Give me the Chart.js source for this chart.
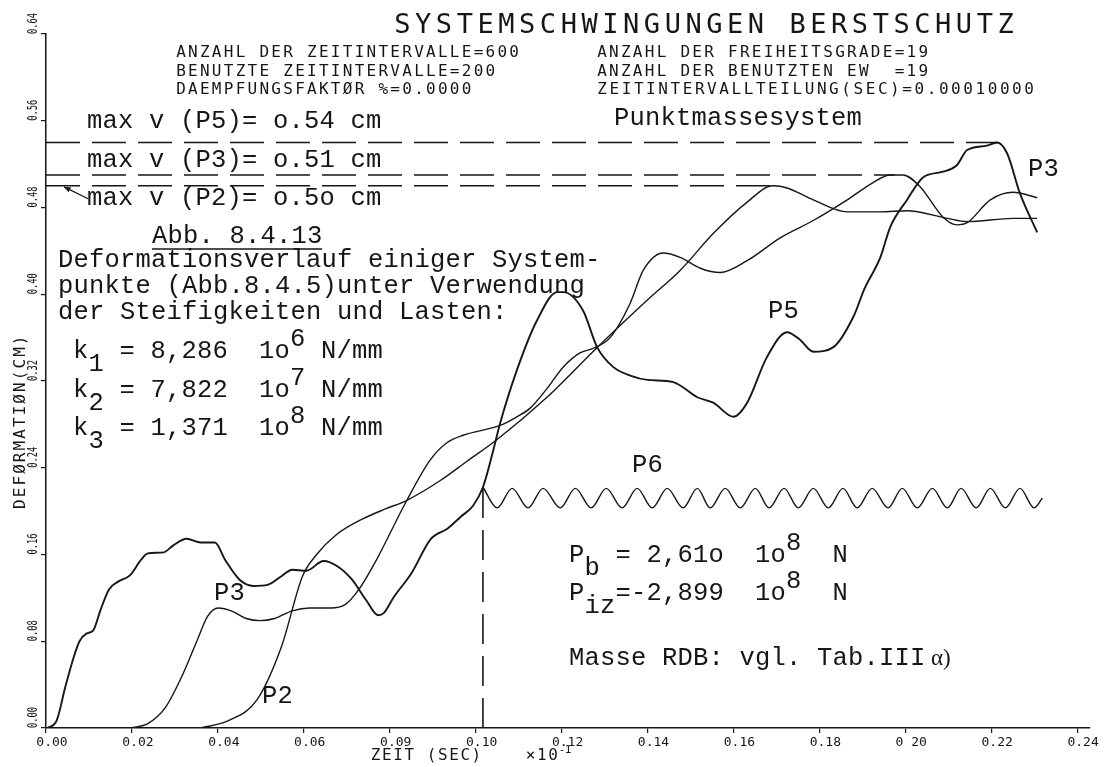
<!DOCTYPE html>
<html lang="de">
<head>
<meta charset="utf-8">
<title>Systemschwingungen Berstschutz</title>
<script src="https://cdn.jsdelivr.net/npm/chart.js@4.4.1/dist/chart.umd.min.js"></script>
<style>
  html, body { margin: 0; padding: 0; background: #fff; }
  #wrap { position: relative; width: 1114px; height: 767px; }
</style>
</head>
<body>
<div id="wrap"><canvas id="plot"></canvas></div>
<script>
// Axis ticks
const xTickValues = [0, 0.02, 0.04, 0.06, 0.08, 0.10, 0.12, 0.14, 0.16, 0.18, 0.20, 0.22, 0.24];
const xTickLabels = ['0.00', '0.02', '0.04', '0.06', '0.09', '0.10', '0.12', '0.14', '0.16', '0.18', '0 20', '0.22', '0.24'];
const yTickValues = [0, 0.08, 0.16, 0.24, 0.32, 0.40, 0.48, 0.56, 0.64];
const yTickLabels = ['0.00', '0.08', '0.16', '0.24', '0.32', '0.40', '0.48', '0.56', '0.64'];

// P5 deformation over time (time x10^-1 sec, deformation cm)
const p5Time = [0.0004, 0.0025, 0.0045, 0.0065, 0.0078, 0.0094, 0.011, 0.0127, 0.0147, 0.0168, 0.0196, 0.0221,
  0.0237, 0.0274, 0.0295, 0.0327, 0.036, 0.0393, 0.0417, 0.045, 0.0483, 0.0516, 0.0548, 0.0573, 0.0606, 0.0646,
  0.0679, 0.0712, 0.0745, 0.0773, 0.0786, 0.081, 0.0851, 0.0895, 0.0935, 0.0966, 0.0994, 0.1017, 0.1041, 0.1057,
  0.1096, 0.1143, 0.119, 0.1204, 0.125, 0.1283, 0.132, 0.136, 0.140, 0.146, 0.1516, 0.1553, 0.160, 0.1632, 0.1678,
  0.1725, 0.1755, 0.1786, 0.1832, 0.1879, 0.1905, 0.1942, 0.1965, 0.2004, 0.2042, 0.2088, 0.212, 0.2144, 0.219,
  0.2214, 0.2237, 0.2267, 0.2307];
const p5Defl = [0, 0.007, 0.038, 0.066, 0.080, 0.087, 0.090, 0.109, 0.128, 0.135, 0.141, 0.155,
  0.161, 0.162, 0.168, 0.1745, 0.171, 0.171, 0.155, 0.137, 0.131, 0.132, 0.140, 0.146, 0.145, 0.154,
  0.149, 0.137, 0.118, 0.104, 0.106, 0.121, 0.143, 0.174, 0.184, 0.195, 0.205, 0.222, 0.256, 0.281,
  0.330, 0.376, 0.402, 0.402, 0.385, 0.351, 0.333, 0.325, 0.321, 0.319, 0.305, 0.300, 0.287, 0.300, 0.342,
  0.365, 0.358, 0.347, 0.351, 0.379, 0.405, 0.434, 0.462, 0.487, 0.508, 0.513, 0.519, 0.533, 0.537,
  0.540, 0.530, 0.493, 0.457];

// P3
const p3Time = [0.0198, 0.0237, 0.0278, 0.0319, 0.0352, 0.0376, 0.0401, 0.0434, 0.0466, 0.0499, 0.0532, 0.0573,
  0.0614, 0.0663, 0.0696, 0.0728, 0.0765, 0.084, 0.0894, 0.0933, 0.0971, 0.1057, 0.1096, 0.1127, 0.1166, 0.1204,
  0.1243, 0.1273, 0.1313, 0.136, 0.139, 0.1437, 0.1476, 0.1523, 0.1569, 0.1632, 0.1709, 0.1786, 0.1865, 0.1925,
  0.1965, 0.1995, 0.2035, 0.2088, 0.212, 0.2144, 0.2198, 0.2251, 0.2307];
const p3Defl = [0, 0.004, 0.019, 0.050, 0.081, 0.103, 0.1106, 0.1075, 0.101, 0.099, 0.101, 0.108,
  0.1106, 0.1106, 0.1137, 0.1276, 0.152, 0.210, 0.247, 0.263, 0.270, 0.279, 0.287, 0.295, 0.313, 0.333,
  0.346, 0.350, 0.360, 0.392, 0.422, 0.438, 0.434, 0.424, 0.420, 0.431, 0.452, 0.468, 0.487, 0.503,
  0.510, 0.510, 0.499, 0.471, 0.464, 0.466, 0.487, 0.494, 0.489];

// P2
const p2Time = [0.036, 0.0426, 0.0491, 0.0548, 0.0597, 0.063, 0.0675, 0.0738, 0.079, 0.084, 0.0917, 0.098, 0.105,
  0.1166, 0.1283, 0.1406, 0.1476, 0.1553, 0.1632, 0.1692, 0.1725, 0.1786, 0.1865, 0.1942, 0.2004, 0.2098, 0.2144,
  0.2251, 0.2307];
const p2Defl = [0, 0.007, 0.026, 0.075, 0.140, 0.160, 0.178, 0.193, 0.202, 0.210, 0.228, 0.246, 0.266,
  0.305, 0.351, 0.397, 0.422, 0.456, 0.485, 0.500, 0.498, 0.487, 0.476, 0.476, 0.477, 0.470, 0.467,
  0.470, 0.470];

// P6 oscillation after t = 0.10
const p6Time = [0.1017, 0.1050, 0.1085, 0.1122, 0.1157, 0.1197, 0.1232, 0.1269, 0.1304, 0.1341, 0.1376, 0.1411,
  0.1446, 0.1483, 0.1516, 0.1546, 0.1581, 0.1616, 0.1651, 0.1683, 0.1718, 0.1751, 0.1786, 0.1821, 0.1855, 0.1888,
  0.1923, 0.1960, 0.1993, 0.2028, 0.2063, 0.2098, 0.2130, 0.2165, 0.2198, 0.2233, 0.2267, 0.2300, 0.2319];
const p6Defl = [0.222, 0.203, 0.221, 0.203, 0.221, 0.203, 0.221, 0.203, 0.221, 0.203, 0.221, 0.203,
  0.221, 0.203, 0.221, 0.203, 0.221, 0.203, 0.221, 0.203, 0.221, 0.203, 0.221, 0.203, 0.221, 0.203,
  0.221, 0.203, 0.221, 0.203, 0.221, 0.203, 0.221, 0.203, 0.221, 0.203, 0.221, 0.203, 0.212];

// max v lines (P5, P3, P2) and where they end
const maxDefl = [0.54, 0.51, 0.50];
const maxTime = [0.2214, 0.1975, 0.1692];

// load step marker at t = 0.10
const stepTime = 0.1017;

const INK = '#161616';
const PLOT_FONT = '"DejaVu Sans Mono", "Liberation Mono", monospace';
const TYPE_FONT = '"Liberation Mono", "Courier New", monospace';

function toPoints(ts, vs) {
  return ts.map((t, i) => ({ x: t, y: vs[i] }));
}

function curve(ts, vs, width) {
  return {
    data: toPoints(ts, vs),
    borderColor: INK,
    borderWidth: width,
    pointRadius: 0,
    fill: false,
    cubicInterpolationMode: 'monotone'
  };
}

function dashed(points, dash) {
  return {
    data: points,
    borderColor: INK,
    borderWidth: 1.6,
    borderDash: dash,
    pointRadius: 0,
    fill: false,
    tension: 0
  };
}

const datasets = [
  curve(p5Time, p5Defl, 1.9),
  curve(p3Time, p3Defl, 1.4),
  curve(p2Time, p2Defl, 1.4),
  curve(p6Time, p6Defl, 1.4),
  dashed([{ x: stepTime, y: 0 }, { x: stepTime, y: p6Defl[0] }], [30, 12])
];
maxDefl.forEach((v, i) => {
  datasets.push(dashed([{ x: 0, y: v }, { x: maxTime[i], y: v }], [34, 12]));
});

// plotter style header lines: [text, x, baseline]
const headerLines = [
  ['ANZAHL DER ZEITINTERVALLE=600', 175, 57],
  ['BENUTZTE ZEITINTERVALLE=200', 175, 75.5],
  ['DAEMPFUNGSFAKTØR %=0.0000', 175, 94],
  ['ANZAHL DER FREIHEITSGRADE=19', 596, 57],
  ['ANZAHL DER BENUTZTEN EW  =19', 596, 75.5],
  ['ZEITINTERVALLTEILUNG(SEC)=0.00010000', 596, 94]
];

// typewriter lines; ^ raises and _ lowers the next character
const typedLines = [
  ['Punktmassesystem', 614, 125],
  ['max v (P5)= o.54 cm', 87, 128],
  ['max v (P3)= o.51 cm', 87, 167],
  ['max v (P2)= o.5o cm', 87, 205],
  ['Abb. 8.4.13', 152, 243],
  ['Deformationsverlauf einiger System-', 58, 267],
  ['punkte (Abb.8.4.5)unter Verwendung', 58, 293],
  ['der Steifigkeiten und Lasten:', 58, 319],
  ['k_1 = 8,286  1o^6 N/mm', 73, 358],
  ['k_2 = 7,822  1o^7 N/mm', 73, 397],
  ['k_3 = 1,371  1o^8 N/mm', 73, 435],
  ['P_b = 2,61o  1o^8  N', 569, 562],
  ['P_i_z=-2,899  1o^8  N', 569, 600],
  ['Masse RDB: vgl. Tab.III', 569, 665],
  ['P3', 1028, 176],
  ['P5', 768, 318],
  ['P6', 632, 472],
  ['P3', 214, 600],
  ['P2', 262, 703]
];

function drawChars(ctx, text, x0, y0, adv) {
  let col = 0;
  for (let i = 0; i < text.length; i++) {
    let dy = 0;
    if (text[i] === '^') { dy = -12; i++; }
    else if (text[i] === '_') { dy = 13; i++; }
    ctx.fillText(text[i], x0 + col * adv + adv / 2, y0 + dy);
    col++;
  }
}

const annotations = {
  id: 'annotations',
  afterDraw(chart) {
    const ctx = chart.ctx;
    const xs = chart.scales.x;
    const ys = chart.scales.y;
    ctx.save();
    ctx.fillStyle = INK;
    ctx.strokeStyle = INK;
    ctx.textAlign = 'center';
    ctx.textBaseline = 'alphabetic';

    // title and run parameters
    ctx.font = '27px ' + PLOT_FONT;
    drawChars(ctx, 'SYSTEMSCHWINGUNGEN BERSTSCHUTZ', 392, 33, 20.8);
    ctx.font = '16px ' + PLOT_FONT;
    headerLines.forEach(([t, x, y]) => drawChars(ctx, t, x, y, t.length > 30 ? 12.2 : 11.9));

    // typed notes
    ctx.font = '25.5px ' + TYPE_FONT;
    typedLines.forEach(([t, x, y]) => drawChars(ctx, t, x, y, 15.5));
    ctx.font = '23px "Liberation Serif", serif';
    ctx.textAlign = 'left';
    ctx.fillText('α)', 931, 665);

    // underline of figure number
    ctx.lineWidth = 1.5;
    ctx.beginPath();
    ctx.moveTo(152, 249);
    ctx.lineTo(322, 249);
    ctx.stroke();

    // arrow onto the P2 line
    const ax0 = xs.getPixelForValue(0.0098), ay0 = ys.getPixelForValue(0.488);
    const ax1 = xs.getPixelForValue(0.0042), ay1 = ys.getPixelForValue(maxDefl[2] - 0.001);
    ctx.lineWidth = 1.2;
    ctx.beginPath();
    ctx.moveTo(ax0, ay0);
    ctx.lineTo(ax1, ay1);
    ctx.stroke();
    const ang = Math.atan2(ay1 - ay0, ax1 - ax0);
    ctx.beginPath();
    ctx.moveTo(ax1, ay1);
    ctx.lineTo(ax1 - 7 * Math.cos(ang - 0.4), ay1 - 7 * Math.sin(ang - 0.4));
    ctx.lineTo(ax1 - 7 * Math.cos(ang + 0.4), ay1 - 7 * Math.sin(ang + 0.4));
    ctx.closePath();
    ctx.fill();

    // y tick labels, rotated, reading upward from each tick
    ctx.font = '14px ' + PLOT_FONT;
    ctx.textAlign = 'left';
    yTickValues.forEach((v, i) => {
      const py = ys.getPixelForValue(v);
      ctx.save();
      ctx.translate(37, py);
      ctx.rotate(-Math.PI / 2);
      ctx.fillText(yTickLabels[i], 0, 0, 21);
      ctx.restore();
    });

    // axis titles
    ctx.textAlign = 'center';
    ctx.font = '16px ' + PLOT_FONT;
    ctx.save();
    ctx.translate(25, 510);
    ctx.rotate(-Math.PI / 2);
    drawChars(ctx, 'DEFØRMATIØN(CM)', 0, 0, 11.7);
    ctx.restore();
    drawChars(ctx, 'ZEIT (SEC)', 370, 760, 11.2);
    drawChars(ctx, '×10', 525, 760, 11.2);
    ctx.font = '11px ' + PLOT_FONT;
    drawChars(ctx, '-1', 559, 753, 6);

    ctx.restore();
  }
};

new Chart(document.getElementById('plot'), {
  type: 'line',
  data: { datasets },
  plugins: [annotations],
  options: {
    responsive: true,
    maintainAspectRatio: false,
    animation: false,
    devicePixelRatio: 1,
    layout: { padding: { top: 34, right: 24, bottom: 0, left: 0 } },
    plugins: {
      legend: { display: false },
      tooltip: { enabled: false }
    },
    scales: {
      x: {
        type: 'linear',
        min: 0,
        max: 0.243,
        afterFit: (scale) => { scale.height = 39; },
        afterBuildTicks: (scale) => { scale.ticks = xTickValues.map(v => ({ value: v })); },
        border: { color: INK, width: 1.5 },
        grid: { drawOnChartArea: false, color: INK, tickLength: 5, lineWidth: 1.2 },
        ticks: {
          autoSkip: false,
          maxRotation: 0,
          minRotation: 0,
          padding: 2,
          labelOffset: 6,
          color: INK,
          font: { family: PLOT_FONT, size: 13 },
          callback: (value, index) => xTickLabels[index]
        }
      },
      y: {
        type: 'linear',
        min: 0,
        max: 0.64,
        afterFit: (scale) => { scale.width = 46; },
        afterBuildTicks: (scale) => { scale.ticks = yTickValues.map(v => ({ value: v })); },
        border: { color: INK, width: 1.5 },
        grid: { drawOnChartArea: false, color: INK, tickLength: 5, lineWidth: 1.2 },
        ticks: { display: false }
      }
    }
  }
});
</script>
</body>
</html>
